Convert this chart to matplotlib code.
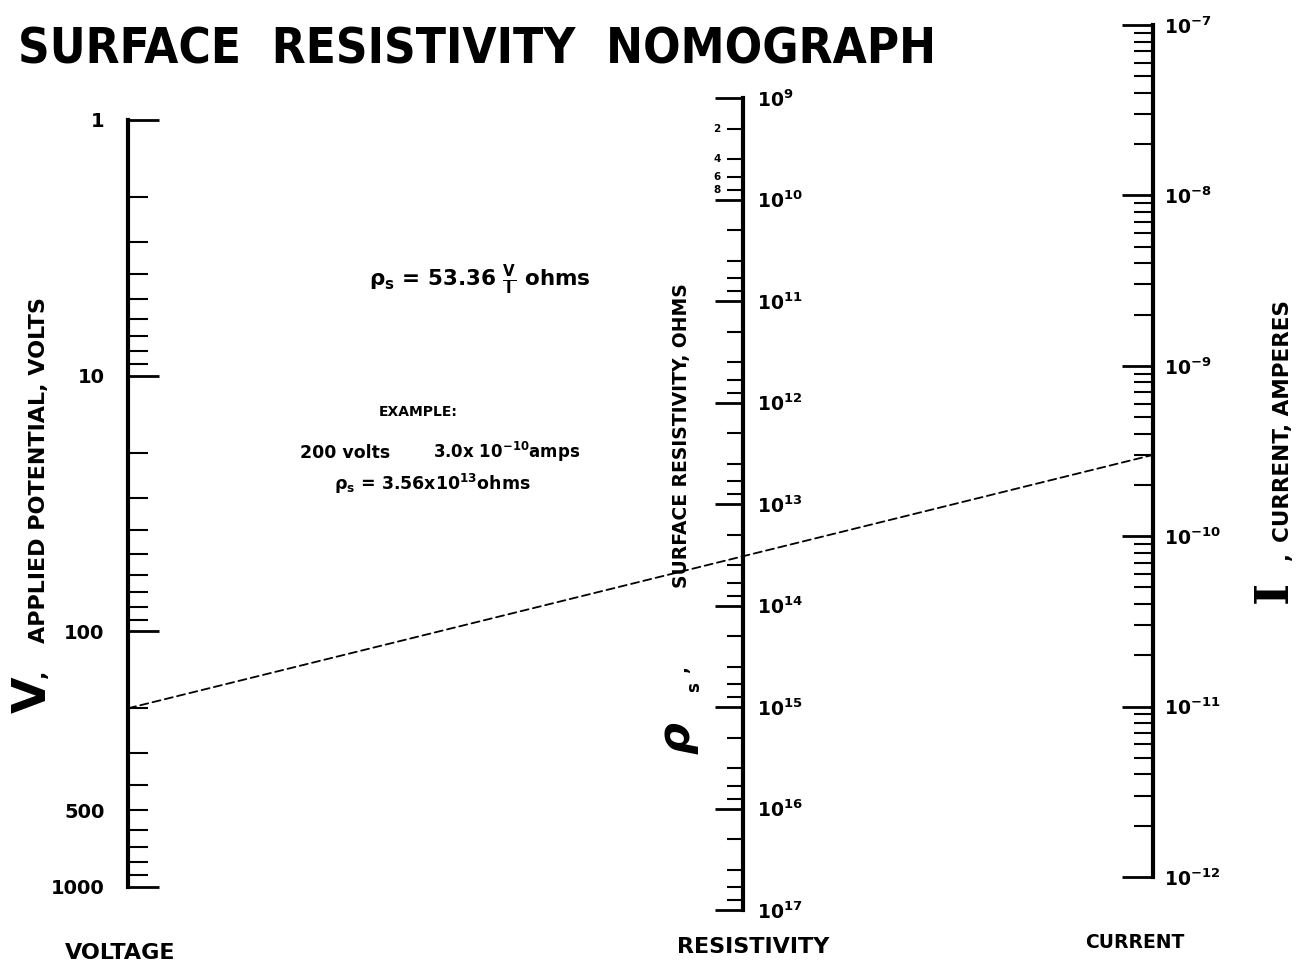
import numpy as np
import matplotlib
matplotlib.use('Agg')
import matplotlib.pyplot as plt
from matplotlib.ticker import FixedLocator, FuncFormatter
from matplotlib.patches import ConnectionPatch

W, H = 1297, 968

# voltage scale (volts)
volt_decades = [1, 10, 100, 1000]
volt_steps = [2, 3, 4, 5, 6, 7, 8, 9]
volt_labeled = [1, 10, 100, 500, 1000]

# resistivity scale (powers of ten, ohms)
res_exponents = [9, 10, 11, 12, 13, 14, 15, 16, 17]
res_steps = [2, 4, 6, 8]

# current scale (powers of ten, amperes)
cur_exponents = [-7, -8, -9, -10, -11, -12]
cur_steps = [2, 3, 4, 5, 6, 7, 8, 9]

# worked example
const = 53.36
ex_volts = 200
ex_amps = 3.0e-10
ex_ohms = const * ex_volts / ex_amps

plt.rcParams['font.family'] = 'DejaVu Sans'
plt.rcParams['font.weight'] = 'bold'
plt.rcParams['mathtext.fontset'] = 'dejavusans'
plt.rcParams['mathtext.default'] = 'bf'

fig = plt.figure(figsize=(W / 100, H / 100), dpi=100)


def fx(px):
    return px / W


def fy(py):
    return 1 - py / H


def sci(v):
    e = int(np.floor(np.log10(v)))
    return v / 10 ** e, e


def make_scale(x, top, bottom, side):
    # a thin axes whose only visible spine is the nomograph scale
    left = x if side == 'left' else x - 1
    ax = fig.add_axes([fx(left), fy(bottom), 1 / W, (bottom - top) / H])
    ax.set_yscale('log')
    for s in ax.spines:
        ax.spines[s].set_visible(s == side)
    ax.spines[side].set_linewidth(3)
    ax.set_xticks([])
    ax.patch.set_visible(False)
    if side == 'right':
        ax.yaxis.tick_right()
    return ax


def vtext(x, y, s, size, **kw):
    # rotated label, baseline on x, reading upward from y
    return fig.text(fx(x), fy(y), s, rotation=90, rotation_mode='anchor',
                    ha='left', va='baseline', fontsize=size, **kw)


# ---- voltage
ax_v = make_scale(128, 120, 887, 'left')
ax_v.set_ylim(volt_decades[-1], volt_decades[0])
ax_v.yaxis.set_major_locator(FixedLocator(volt_decades))
ax_v.yaxis.set_minor_locator(FixedLocator([d * s for d in volt_decades[:-1] for s in volt_steps]))
ax_v.yaxis.set_major_formatter(FuncFormatter(lambda v, p: '%d' % v))
ax_v.yaxis.set_minor_formatter(FuncFormatter(lambda v, p: '%d' % v if round(v) in volt_labeled else ''))
ax_v.tick_params(axis='y', which='major', direction='in', length=22, width=2, pad=17, labelsize=14)
ax_v.tick_params(axis='y', which='minor', direction='in', length=14.5, width=1.5, pad=17, labelsize=14)

# ---- resistivity
ax_r = make_scale(743, 98, 910, 'right')
ax_r.set_ylim(10.0 ** res_exponents[-1], 10.0 ** res_exponents[0])
ax_r.yaxis.set_major_locator(FixedLocator([10.0 ** e for e in res_exponents]))
ax_r.yaxis.set_minor_locator(FixedLocator([s * 10.0 ** e for e in res_exponents[:-1] for s in res_steps]))
ax_r.yaxis.set_major_formatter(FuncFormatter(lambda v, p: r'$10^{%d}$' % round(np.log10(v))))
ax_r.yaxis.set_minor_formatter(FuncFormatter(lambda v, p: ''))
ax_r.tick_params(axis='y', which='major', direction='in', length=20, width=2, pad=10, labelsize=13.5)
ax_r.tick_params(axis='y', which='minor', direction='in', length=11.5, width=1.5)
for s in res_steps:
    ax_r.annotate(str(s), xy=(1, s * 10.0 ** res_exponents[0]), xycoords=ax_r.get_yaxis_transform(),
                  xytext=(-16, 0), textcoords='offset points', ha='right', va='center', fontsize=7.5)

# ---- current
ax_i = make_scale(1153, 25, 877, 'right')
ax_i.set_ylim(10.0 ** cur_exponents[-1], 10.0 ** cur_exponents[0])
ax_i.yaxis.set_major_locator(FixedLocator([10.0 ** e for e in cur_exponents]))
ax_i.yaxis.set_minor_locator(FixedLocator([s * 10.0 ** e for e in cur_exponents[1:] for s in cur_steps]))
ax_i.yaxis.set_major_formatter(FuncFormatter(lambda v, p: r'$10^{%d}$' % round(np.log10(v))))
ax_i.yaxis.set_minor_formatter(FuncFormatter(lambda v, p: ''))
ax_i.tick_params(axis='y', which='major', direction='in', length=22, width=2, pad=8, labelsize=13.5)
ax_i.tick_params(axis='y', which='minor', direction='in', length=14, width=1.5)

# example isopleth
con = ConnectionPatch(xyA=(0, ex_volts), coordsA=ax_v.transData,
                      xyB=(1, ex_amps), coordsB=ax_i.transData,
                      color='black', lw=1.3, ls=(0, (4.5, 2.5)))
fig.add_artist(con)

# title
title = fig.text(fx(18), fy(64), 'SURFACE  RESISTIVITY  NOMOGRAPH', ha='left', va='baseline',
                 fontsize=40, fontweight='bold', fontstretch='condensed')
rend = fig.canvas.get_renderer()
bw = title.get_window_extent(rend).width
title.set_fontsize(40 * 917 / bw)

# scale titles (rotated)
vtext(46, 713, 'V', 34)
vtext(45, 678, ',', 16)
vtext(45, 643, 'APPLIED POTENTIAL, VOLTS', 16)

vtext(690, 754, 'ρ', 32, style='italic')
vtext(699, 692, 's', 12)
vtext(687, 672, ',', 13)
vtext(687, 588, 'SURFACE RESISTIVITY, OHMS', 13.5)

vtext(1287, 603, 'I', 34, family='DejaVu Serif', fontweight='bold')
vtext(1289, 560, ',', 15)
vtext(1289, 542, 'CURRENT, AMPERES', 15.5)

# formula and example
fig.text(fx(480), fy(280), r'$\rho_s$ = %.2f $\frac{V}{I}$ ohms' % const, ha='center', va='center', fontsize=15.5)
fig.text(fx(418), fy(412), 'EXAMPLE:', ha='center', va='center', fontsize=10)
fig.text(fx(345), fy(453), '%d volts' % ex_volts, ha='center', va='center', fontsize=12.5)
m, e = sci(ex_amps)
fig.text(fx(507), fy(452), r'%.1fx $10^{%d}$amps' % (m, e), ha='center', va='center', fontsize=12)
m, e = sci(ex_ohms)
fig.text(fx(432), fy(484), r'$\rho_s$ = %.2fx$10^{%d}$ohms' % (m, e), ha='center', va='center', fontsize=12.5)

# bottom scale names
fig.text(fx(120), fy(953), 'VOLTAGE', ha='center', va='center', fontsize=16)
fig.text(fx(753), fy(947), 'RESISTIVITY', ha='center', va='center', fontsize=16)
fig.text(fx(1135), fy(943), 'CURRENT', ha='center', va='center', fontsize=13.5)

fig.savefig('out.png', dpi=100, facecolor='white')
